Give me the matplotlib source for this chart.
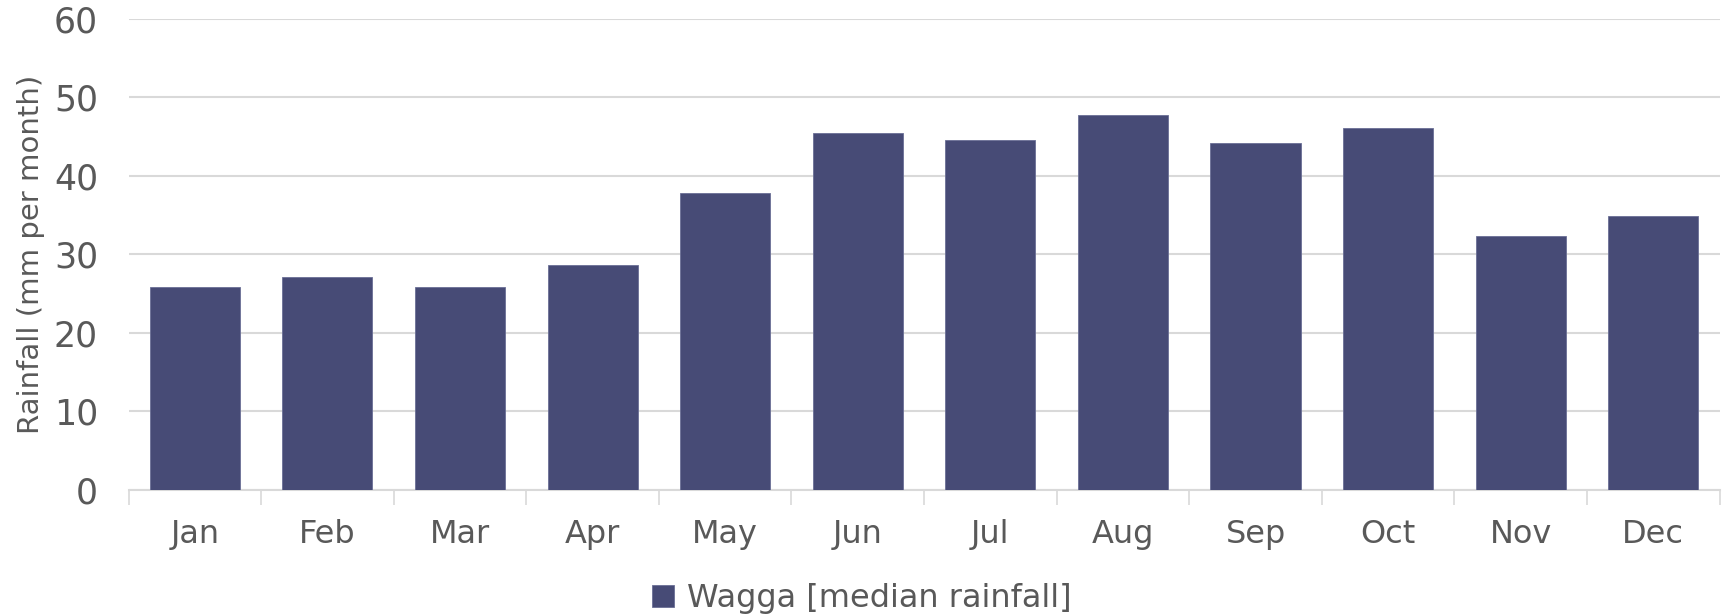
import matplotlib.pyplot as plt
import numpy as np

months = ['Jan', 'Feb', 'Mar', 'Apr', 'May', 'Jun',
          'Jul', 'Aug', 'Sep', 'Oct', 'Nov', 'Dec']
rainfall = [25.8, 27.1, 25.9, 28.7, 37.8, 45.5, 44.6, 47.7, 44.2, 46.1, 32.3, 34.9]
yticks = [0, 10, 20, 30, 40, 50, 60]

text_col = '#595959'
bar_col = '#474b76'
grid_col = '#d9d9d9'

plt.rcParams['font.family'] = ['DejaVu Sans']

fig = plt.figure(figsize=(17.23, 6.16), dpi=100)
ax = fig.add_axes([0.0746, 0.2045, 0.9234, 0.7651])

x = np.arange(len(months))
ax.bar(x, rainfall, width=0.68, color=bar_col, edgecolor='#6a6f96',
       linewidth=0.6, label='Wagga [median rainfall]', zorder=3)

ax.set_xlim(-0.5, len(months) - 0.5)
ax.set_ylim(0, 60)
ax.set_yticks(yticks)
ax.set_yticklabels([str(v) for v in yticks])
ax.set_xticks(x)
ax.set_xticklabels(months)
ax.set_xticks(np.arange(-0.5, len(months)), minor=True)

ax.tick_params(axis='y', length=0, labelsize=25, labelcolor=text_col, pad=22)
ax.tick_params(axis='x', which='major', length=0, labelsize=23,
               labelcolor=text_col, pad=21)
ax.tick_params(axis='x', which='minor', length=11, width=1.2, color=grid_col)

ax.grid(axis='y', color=grid_col, linewidth=1.5, zorder=0)
for s in ['top', 'right', 'left']:
    ax.spines[s].set_visible(False)
ax.spines['bottom'].set_color(grid_col)
ax.spines['bottom'].set_linewidth(1.5)

ax.set_ylabel('Rainfall (mm per month)', fontsize=21, color=text_col, labelpad=6)

leg = fig.legend(loc='center', bbox_to_anchor=(0.5, 0.028), frameon=False,
                 fontsize=23, handlelength=0.7, handleheight=0.7,
                 handletextpad=0.4)
for t in leg.get_texts():
    t.set_color(text_col)

fig.savefig('out.png', dpi=100)
